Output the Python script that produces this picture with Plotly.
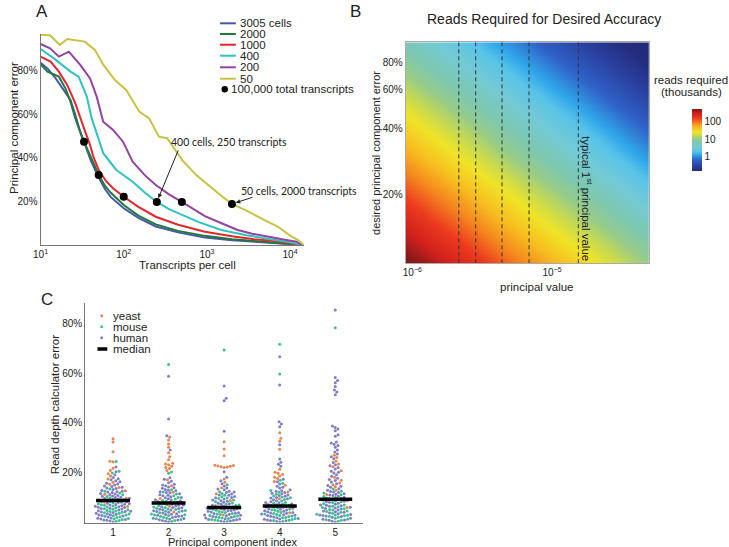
import numpy as np
import plotly.graph_objects as go

W, H = 729, 547


def fx(p):
    return p / W


def fy(p):
    return 1 - p / H


FONT = "Liberation Sans, Arial, Helvetica, sans-serif"

# ---------------- A: principal component error vs transcripts per cell
series_names = ["3005 cells", "2000", "1000", "400", "200", "50"]
series_colors = ["#4758a8", "#22783f", "#e4262d", "#2ec3bc", "#9343a1", "#c5c33f"]

tpc_3005 = [10, 12.1, 15.2, 19.1, 22.9, 26.2, 30, 33.3, 40, 50, 60, 70, 100, 150, 243, 450, 946, 2000, 3700, 7000, 10000, 14000]
err_3005 = [83.8, 81.2, 76.6, 71.3, 66.7, 59.8, 52.1, 47.5, 39, 31, 25.5, 22, 16.9, 12.5, 8.5, 5.8, 3.5, 2.2, 1.4, 0.8, 0.5, 0]
tpc_2000 = [10, 12.1, 16.6, 19.9, 22.9, 26.2, 31.4, 40, 50, 60, 70, 100, 150, 243, 450, 946, 2000, 3700, 7000, 10000, 14000]
err_2000 = [83.1, 79.7, 77.4, 72, 65.9, 58.2, 49.8, 40.5, 32.2, 27, 24, 18.4, 13.5, 9.5, 6.5, 4.2, 2.6, 1.8, 1.0, 0.6, 0]
tpc_1000 = [10, 13.2, 16.6, 20.9, 26.2, 30, 34.4, 39.4, 43.1, 50, 62, 75, 100, 150, 243, 450, 946, 2000, 3700, 7000, 10000, 14000]
err_1000 = [86.6, 84.3, 79.7, 73.6, 65.1, 58.2, 52.1, 46, 40.6, 34.5, 29.1, 26, 22.2, 17.5, 13, 9.3, 6.1, 4, 2.6, 1.7, 1.0, 0]
tpc_400 = [10, 14.5, 22.9, 28.7, 36, 41.2, 49.5, 56.7, 81.5, 128, 180, 250, 350, 500, 800, 1490, 3000, 5840, 10000, 14000]
err_400 = [90.1, 85.8, 79.7, 77.4, 68.2, 58.2, 49.1, 42.2, 34.5, 29.1, 24, 19.8, 16.5, 13.8, 10.5, 6.9, 4.5, 2.6, 1.3, 0]
tpc_200 = [10, 13, 16.6, 21.9, 30, 39.4, 47.3, 56.7, 74.5, 98, 128, 180, 243, 350, 500, 946, 1500, 2340, 3500, 5840, 9000, 12000, 14000]
err_200 = [92.4, 90.4, 86.6, 88.9, 82.8, 76.6, 68.2, 56.7, 52.9, 47.5, 38.3, 32, 27.6, 23.3, 19.8, 13.3, 10, 6.9, 5.2, 3.5, 2.3, 1.5, 0]
tpc_50 = [10, 13, 17, 21, 34, 45, 57, 78, 107, 154, 202, 265, 333, 505, 750, 1100, 1500, 2000, 3000, 5000, 7000, 10000, 12500, 14600]
err_50 = [96.6, 96.4, 92, 94.7, 93.5, 89.7, 82.8, 75.9, 71.3, 61.3, 58.2, 49.8, 49.1, 39, 32, 26.5, 22.5, 18.9, 15.8, 11.3, 8.6, 4.3, 2.3, 0]

# 100,000 total transcripts points
dot_cells = [3005, 2000, 1000, 400, 200, 50]
dot_tpc = [33.3, 50, 100, 250, 500, 2000]
dot_err = [47.5, 32.2, 22.2, 19.8, 19.8, 18.9]

# ---------------- B: reads required (thousands)
pc_values = [8.97e-7, 1.34e-6, 2.00e-6, 2.99e-6, 4.46e-6, 6.66e-6, 9.95e-6, 1.49e-5, 2.22e-5, 3.31e-5, 4.94e-5]
err_levels = [0.0968, 0.122, 0.154, 0.195, 0.245, 0.309, 0.390, 0.492, 0.621, 0.783, 0.989]
reads_k = [
    [562, 380, 251, 170, 112, 75.9, 51.3, 33.9, 22.9, 15.1, 10.2],
    [355, 234, 158, 107, 70.8, 47.9, 31.6, 21.4, 14.5, 9.55, 6.46],
    [224, 148, 100, 67.6, 44.7, 30.2, 20.0, 13.5, 8.91, 6.03, 4.07],
    [138, 93.3, 63.1, 41.7, 28.2, 18.6, 12.6, 8.51, 5.62, 3.80, 2.51],
    [87.1, 58.9, 38.9, 26.3, 17.8, 11.7, 7.94, 5.25, 3.55, 2.40, 1.58],
    [55.0, 37.2, 24.5, 16.6, 11.0, 7.41, 5.01, 3.31, 2.24, 1.48, 1.00],
    [34.7, 22.9, 15.5, 10.5, 6.92, 4.68, 3.09, 2.09, 1.41, 0.933, 0.631],
    [21.9, 14.5, 9.77, 6.46, 4.37, 2.95, 1.95, 1.32, 0.871, 0.589, 0.398],
    [13.5, 9.12, 6.17, 4.07, 2.75, 1.82, 1.23, 0.832, 0.550, 0.372, 0.245],
    [8.51, 5.75, 3.80, 2.57, 1.74, 1.15, 0.776, 0.513, 0.347, 0.234, 0.155],
    [5.37, 3.63, 2.40, 1.62, 1.07, 0.724, 0.490, 0.324, 0.219, 0.145, 0.0977],
]
typical_pc = [2.15e-6, 2.84e-6, 4.38e-6, 6.84e-6, 1.54e-5]

# ---------------- C: read depth calculator error (%)
pc_index = [1, 2, 3, 4, 5]
medians = [8.8, 7.8, 6.0, 6.6, 9.3]
yeast = [
    [33.6, 32.3, 28.4, 24.6, 24.4, 21.8, 20.9, 19.6, 18.7, 17.5, 16.2, 15.4, 14.1, 12.8, 11.3, 9.7, 8.2, 6.4],
    [34.3, 33.1, 31.5, 30.2, 28.0, 26.4, 25.2, 23.8, 23.5, 23.2, 22.6, 22.1, 21.7, 20.9, 17.2, 14.8, 12.1, 9.6, 6.5, 4.2],
    [32.4, 29.5, 26.8, 23.0, 22.9, 22.7, 22.6, 22.4, 22.3, 22.1, 17.5, 16.2, 14.0, 11.5, 8.8, 5.5, 3.0],
    [36.0, 33.8, 32.6, 29.4, 21.4, 20.2, 19.8, 19.3, 18.7, 18.2, 17.7, 16.5, 15.0, 12.3, 9.5, 6.8, 3.9],
    [27.0, 26.1, 24.7, 23.5, 22.4, 20.8, 18.2, 17.0, 15.9, 15.2, 14.4, 13.0, 11.2, 8.7, 6.0],
]
mouse = [
    [24.5, 20.6, 19.9, 13.5, 12.6, 11.8, 11.1, 10.4, 9.9, 9.3, 8.9, 8.4, 7.9, 7.5, 7.1, 6.6, 6.2, 5.9, 5.5, 5.1,
     4.8, 4.4, 4.1, 3.7, 3.4, 3.0, 2.7, 2.3, 2.0, 1.6, 1.2, 0.8, 0.4, 6.9, 5.3, 3.9, 2.5, 1.4, 8.1, 4.6],
    [63.5, 20.3, 19.8, 13.2, 12.2, 11.4, 10.7, 10.0, 9.4, 8.8, 8.2, 7.7, 7.2, 6.7, 6.2, 5.7, 5.2, 4.8, 4.3, 3.9,
     3.4, 3.0, 2.5, 2.1, 1.7, 1.2, 0.8, 0.4, 6.0, 4.5, 3.1, 1.5, 8.5, 5.4, 2.8],
    [69.3, 15.2, 12.4, 11.6, 10.9, 10.3, 9.6, 9.0, 8.4, 7.8, 7.3, 6.8, 6.3, 5.8, 5.3, 4.9, 4.4, 4.0, 3.6, 3.2,
     2.8, 2.4, 2.0, 1.6, 1.2, 0.8, 0.4, 7.0, 5.6, 4.2, 2.6, 1.0, 9.8, 6.1, 3.4, 1.8],
    [71.6, 59.6, 17.0, 15.8, 12.9, 12.1, 11.3, 10.6, 9.9, 9.2, 8.6, 8.0, 7.4, 6.9, 6.4, 5.9, 5.4, 4.9, 4.5, 4.0,
     3.6, 3.2, 2.8, 2.4, 2.0, 1.6, 1.2, 0.8, 0.4, 7.7, 5.1, 3.4, 1.9, 0.9, 10.2, 6.1, 2.6],
    [78.2, 13.5, 12.6, 11.8, 11.1, 10.4, 9.8, 9.2, 8.6, 8.0, 7.5, 7.0, 6.5, 6.0, 5.5, 5.0, 4.6, 4.1, 3.7, 3.3,
     2.9, 2.5, 2.1, 1.7, 1.3, 0.9, 0.5, 8.3, 6.3, 4.4, 2.7, 1.1, 10.0, 5.2, 3.0],
]
human = [
    [22.3, 20.4, 19.2, 18.1, 17.6, 16.8, 16.4, 15.8, 15.1, 14.7, 14.2, 13.7, 13.3, 12.9, 12.4, 12.0, 11.6, 11.2,
     10.8, 10.5, 10.1, 9.7, 9.4, 9.0, 8.7, 8.3, 8.0, 7.7, 7.3, 7.0, 6.7, 6.3, 6.0, 5.7, 5.4, 5.0, 4.7, 4.4, 4.0,
     3.7, 3.3, 3.0, 2.6, 2.2, 1.8, 1.4, 1.0, 0.6, 0.2, 15.5, 13.9, 12.2, 10.6, 9.1, 7.5, 6.1, 4.5, 3.1, 1.7, 11.4,
     8.5, 5.6, 2.8, 14.5, 10.0, 7.2, 4.2, 1.2, 17.2, 12.6, 9.6, 6.5, 3.5, 0.9],
    [58.7, 41.6, 34.8, 29.1, 18.0, 17.4, 16.6, 16.0, 15.4, 14.8, 14.3, 13.8, 13.3, 12.8, 12.4, 11.9, 11.5, 11.1,
     10.7, 10.3, 9.9, 9.5, 9.1, 8.7, 8.4, 8.0, 7.6, 7.3, 6.9, 6.6, 6.3, 5.9, 5.6, 5.3, 5.0, 4.7, 4.4, 4.1, 3.8,
     3.5, 3.2, 2.9, 2.6, 2.3, 2.0, 1.7, 1.4, 1.1, 0.8, 0.5, 0.2, 15.1, 13.0, 10.9, 9.0, 7.0, 5.1, 3.3, 1.6, 12.0,
     8.2, 4.6, 1.0, 14.0, 6.0, 2.5, 10.0],
    [54.8, 49.9, 48.9, 36.7, 20.4, 18.2, 16.8, 15.6, 14.7, 13.9, 13.2, 12.6, 12.0, 11.4, 10.9, 10.4, 9.9, 9.4,
     9.0, 8.5, 8.1, 7.7, 7.3, 6.9, 6.5, 6.2, 5.8, 5.5, 5.2, 4.8, 4.5, 4.2, 3.9, 3.6, 3.3, 3.0, 2.7, 2.4, 2.1,
     1.8, 1.5, 1.2, 0.9, 0.6, 0.3, 13.5, 11.0, 8.7, 6.7, 4.7, 2.9, 1.1, 10.0, 7.5, 5.0, 2.2, 0.5, 12.2, 6.0,
     3.7, 1.4],
    [66.6, 55.2, 40.5, 39.6, 38.5, 31.2, 25.5, 24.2, 23.4, 22.6, 17.4, 16.4, 15.5, 14.6, 13.9, 13.2, 12.6, 12.0,
     11.5, 11.0, 10.5, 10.0, 9.5, 9.1, 8.7, 8.3, 7.9, 7.5, 7.1, 6.7, 6.4, 6.0, 5.7, 5.3, 5.0, 4.7, 4.3, 4.0,
     3.7, 3.4, 3.1, 2.8, 2.5, 2.2, 1.9, 1.6, 1.3, 1.0, 0.7, 0.4, 0.1, 14.2, 11.7, 9.8, 8.0, 6.2, 4.5, 2.9, 1.4,
     10.8, 7.2, 3.8, 0.8, 12.8, 5.5],
    [85.3, 58.2, 57.0, 56.1, 54.6, 53.2, 52.4, 51.3, 38.8, 38.2, 37.6, 36.9, 35.2, 34.6, 32.3, 31.9, 31.4, 30.9,
     30.2, 29.1, 28.3, 27.5, 26.4, 25.6, 24.1, 23.2, 22.1, 21.5, 20.6, 19.9, 19.2, 18.6, 17.8, 16.9, 16.3, 15.6,
     14.9, 14.2, 13.6, 13.0, 12.5, 12.0, 11.5, 11.0, 10.5, 10.1, 9.7, 9.3, 8.9, 8.5, 8.1, 7.7, 7.3, 6.9, 6.5,
     6.1, 5.8, 5.4, 5.0, 4.6, 4.3, 3.9, 3.5, 3.2, 2.8, 2.4, 2.1, 1.7, 1.3, 0.9, 0.5, 0.2, 12.2, 10.8, 9.5, 8.3,
     7.0, 5.6, 4.1, 2.6, 1.0, 11.3, 6.7, 3.0, 20.2, 17.3, 14.6, 22.8],
]
species = ["yeast", "mouse", "human"]
species_colors = {"yeast": "#e8844f", "mouse": "#3dbf91", "human": "#7f7fc6"}

# ---------------- geometry (pixels of the 729x547 page)
A_box = (33, 300, 34, 245)          # left, right, top, bottom
B_box = (403.3, 650, 42.3, 263.3)
C_box = (78.3, 360, 303.4, 522.5)
A_yrange = [0, 97]
C_yrange = [0, 88]
B_xrange = [-6.047, -4.306]
B_yrange = [-1.014, -0.005]

fig = go.Figure()

curves = [(tpc_3005, err_3005), (tpc_2000, err_2000), (tpc_1000, err_1000),
          (tpc_400, err_400), (tpc_200, err_200), (tpc_50, err_50)]
for (xs, ys), col in zip(curves, series_colors):
    fig.add_trace(go.Scatter(x=xs, y=ys, mode="lines", line=dict(color=col, width=2),
                             xaxis="x", yaxis="y", hoverinfo="skip"))
fig.add_trace(go.Scatter(x=dot_tpc, y=dot_err, mode="markers",
                         marker=dict(color="black", size=8), xaxis="x", yaxis="y"))

# heatmap
fig.add_trace(go.Heatmap(
    x=pc_values, y=err_levels, z=np.log10(np.array(reads_k)), zsmooth="best",
    zmin=-0.83, zmax=2.70, xaxis="x2", yaxis="y2",
    colorscale=[[0.0, "#232c7c"], [0.08, "#2a3f9e"], [0.18, "#2f62c8"], [0.26, "#2fa6ea"],
                [0.31, "#58c4e8"], [0.38, "#74cad6"], [0.46, "#7ec8b0"], [0.52, "#98cc88"],
                [0.58, "#cadc4c"], [0.63, "#f0e428"], [0.70, "#f7c020"], [0.77, "#f58a1e"],
                [0.85, "#ec3a1e"], [0.93, "#d0201c"], [1.0, "#801818"]],
    colorbar=dict(x=fx(683), xanchor="left", y=fy(140.5), yanchor="middle",
                  len=82, lenmode="pixels", thickness=10, outlinewidth=0,
                  tickvals=[0, 1, 2], ticktext=["1", "10", "100"], ticks="",
                  tickfont=dict(size=10, family=FONT, color="#222")),
))
lx, ly = [], []
for v in typical_pc:
    lx += [v, v, None]
    ly += [10 ** B_yrange[0], 10 ** B_yrange[1], None]
fig.add_trace(go.Scatter(x=lx, y=ly, mode="lines", xaxis="x2", yaxis="y2",
                         line=dict(color="#333", width=1, dash="4px,3px")))


# beeswarm for C
def swarm_offsets(vals, d):
    vals = np.asarray(vals, float)
    order = np.argsort(vals, kind="stable")
    xs = np.zeros(len(vals))
    px_, py_ = [], []
    for k in order:
        y = vals[k]
        blocks = []
        for a, b in zip(px_, py_):
            dy = abs(b - y)
            if dy < d:
                w = np.sqrt(d * d - dy * dy)
                blocks.append((a - w, a + w))
        cands = [0.0] + [lo for lo, hi in blocks] + [hi for lo, hi in blocks]
        cands.sort(key=lambda c: (abs(c), -c))
        for c in cands:
            if all(c <= lo + 1e-6 or c >= hi - 1e-6 for lo, hi in blocks):
                xs[k] = c
                break
        px_.append(xs[k])
        py_.append(y)
    return xs


ypx = (C_box[3] - C_box[2]) / (C_yrange[1] - C_yrange[0])
xpx = (C_box[1] - C_box[0]) / 5.0
pts = {s: ([], []) for s in species}
for gi, pc in enumerate(pc_index):
    vals = yeast[gi] + mouse[gi] + human[gi]
    labs = ["yeast"] * len(yeast[gi]) + ["mouse"] * len(mouse[gi]) + ["human"] * len(human[gi])
    offs = swarm_offsets(np.array(vals) * ypx, 3.2)
    for v, lab, o in zip(vals, labs, offs):
        pts[lab][0].append(pc + o / xpx)
        pts[lab][1].append(v)
for s in ["human", "mouse", "yeast"]:
    fig.add_trace(go.Scatter(x=pts[s][0], y=pts[s][1], mode="markers", xaxis="x3", yaxis="y3",
                             marker=dict(color=species_colors[s], size=3, line=dict(width=0))))
mx, my = [], []
for pc, m in zip(pc_index, medians):
    mx += [pc - 0.305, pc + 0.305, None]
    my += [m, m, None]
fig.add_trace(go.Scatter(x=mx, y=my, mode="lines", xaxis="x3", yaxis="y3",
                         line=dict(color="black", width=3.5)))

tickfont = dict(size=10, family=FONT, color="#222")
common = dict(showgrid=False, zeroline=False, ticks="", tickfont=tickfont)
fig.update_layout(
    width=W, height=H, margin=dict(l=0, r=0, t=0, b=0),
    paper_bgcolor="white", plot_bgcolor="white", showlegend=False,
    font=dict(family=FONT, color="#222", size=11.5),
    xaxis=dict(type="log", domain=[fx(A_box[0]), fx(A_box[1])], range=[1, 4.166], anchor="y",
               tickvals=[10, 100, 1000, 10000],
               ticktext=["10<sup>1</sup>", "10<sup>2</sup>", "10<sup>3</sup>", "10<sup>4</sup>"],
               showline=True, linecolor="#777", linewidth=1, **common),
    yaxis=dict(domain=[fy(A_box[3]), fy(A_box[2])], range=A_yrange, anchor="x",
               tickvals=[20, 40, 60, 80], ticktext=["20%", "40%", "60%", "80%"],
               showline=True, linecolor="#777", linewidth=1, **common),
    xaxis2=dict(type="log", domain=[fx(B_box[0]), fx(B_box[1])], range=B_xrange, anchor="y2",
                tickvals=[1e-6, 1e-5], ticktext=["10<sup>\u22126</sup>", "10<sup>\u22125</sup>"],
                showline=True, mirror=True, linecolor="#aaa", linewidth=1, **common),
    yaxis2=dict(type="log", domain=[fy(B_box[3]), fy(B_box[2])], range=B_yrange, anchor="x2",
                tickvals=[0.2, 0.4, 0.6, 0.8], ticktext=["20%", "40%", "60%", "80%"],
                showline=True, mirror=True, linecolor="#aaa", linewidth=1, **common),
    xaxis3=dict(domain=[fx(C_box[0]), fx(C_box[1])], range=[0.5, 5.5], anchor="y3",
                tickvals=pc_index, ticktext=[str(i) for i in pc_index],
                showline=True, linecolor="#777", linewidth=1, **common),
    yaxis3=dict(domain=[fy(C_box[3]), fy(C_box[2])], range=C_yrange, anchor="x3",
                tickvals=[20, 40, 60, 80], ticktext=["20%", "40%", "60%", "80%"],
                showline=True, linecolor="#777", linewidth=1, **common),
)

ann = []
shapes = []


def text(x, y, s, size=11.5, angle=0, xanchor="center", family=FONT):
    ann.append(dict(x=fx(x), y=fy(y), xref="paper", yref="paper", text=s, showarrow=False,
                    textangle=angle, xanchor=xanchor, yanchor="middle",
                    font=dict(size=size, family=family, color="#222")))


# panel letters
text(34.5, 11.5, "A", size=17)
text(352, 11.5, "B", size=17)
text(40, 299, "C", size=17)

# A titles
text(6, 128, "Principal component error", angle=-90)
text(182, 265, "Transcripts per cell")
# A legend
leg_rows = [23.3, 34, 44.7, 55.7, 67.3, 78.7]
for name, col, yy in zip(series_names, series_colors, leg_rows):
    shapes.append(dict(type="line", xref="paper", yref="paper", x0=fx(215), x1=fx(231),
                       y0=fy(yy), y1=fy(yy), line=dict(color=col, width=2)))
    text(233, yy, name, xanchor="left")
shapes.append(dict(type="circle", xref="paper", yref="paper", x0=fx(216.5), x1=fx(223),
                   y0=fy(92.5), y1=fy(86), fillcolor="black", line=dict(width=0)))
text(224.5, 89.3, "100,000 total transcripts", xanchor="left")

# A callouts
LAT = "Lato, Open Sans, sans-serif"
text(224, 142, "400 cells, 250 transcripts", size=10.5, family=LAT)
text(234, 191, "50 cells, 2000 transcripts", size=10.5, family=LAT, xanchor="left")
for cells, tpc, err, axp, ayp in [(400, 250, 19.8, 22, -53), (50, 2000, 18.9, 22, -7)]:
    ann.append(dict(x=np.log10(tpc), y=err, xref="x", yref="y", text="", showarrow=True,
                    ax=axp, ay=ayp, arrowhead=2, arrowsize=0.9, arrowwidth=1, arrowcolor="#222",
                    standoff=4))

# B texts
text(543, 19, "Reads Required for Desired Accuracy", size=14)
text(373, 153, "desired principal component error", size=11, angle=-90)
text(536, 287, "principal value", size=11.5)
text(587, 199, "typical 1<sup>st</sup> principal value", size=11.5, angle=90)
text(693, 80, "reads required", size=11.5)
text(693, 92, "(thousands)", size=11.5)

# C titles and legend
text(48, 404, "Read depth calculator error", angle=-90)
text(228, 542, "Principal component index", size=11)
for s, yy in zip(species, [315.7, 326.7, 337.7]):
    shapes.append(dict(type="circle", xref="paper", yref="paper", x0=fx(93.5), x1=fx(96.5),
                       y0=fy(yy + 1.5), y1=fy(yy - 1.5), fillcolor=species_colors[s], line=dict(width=0)))
    text(104.3, yy, s, xanchor="left")
shapes.append(dict(type="line", xref="paper", yref="paper", x0=fx(90.7), x1=fx(100.7),
                   y0=fy(349), y1=fy(349), line=dict(color="black", width=3.5)))
text(104.3, 348.5, "median", xanchor="left")

fig.update_layout(annotations=ann, shapes=shapes)
fig.write_html("out.html", config={"displayModeBar": False, "staticPlot": True},
               post_script="document.body.style.margin='0px';document.body.style.overflow='hidden';")
